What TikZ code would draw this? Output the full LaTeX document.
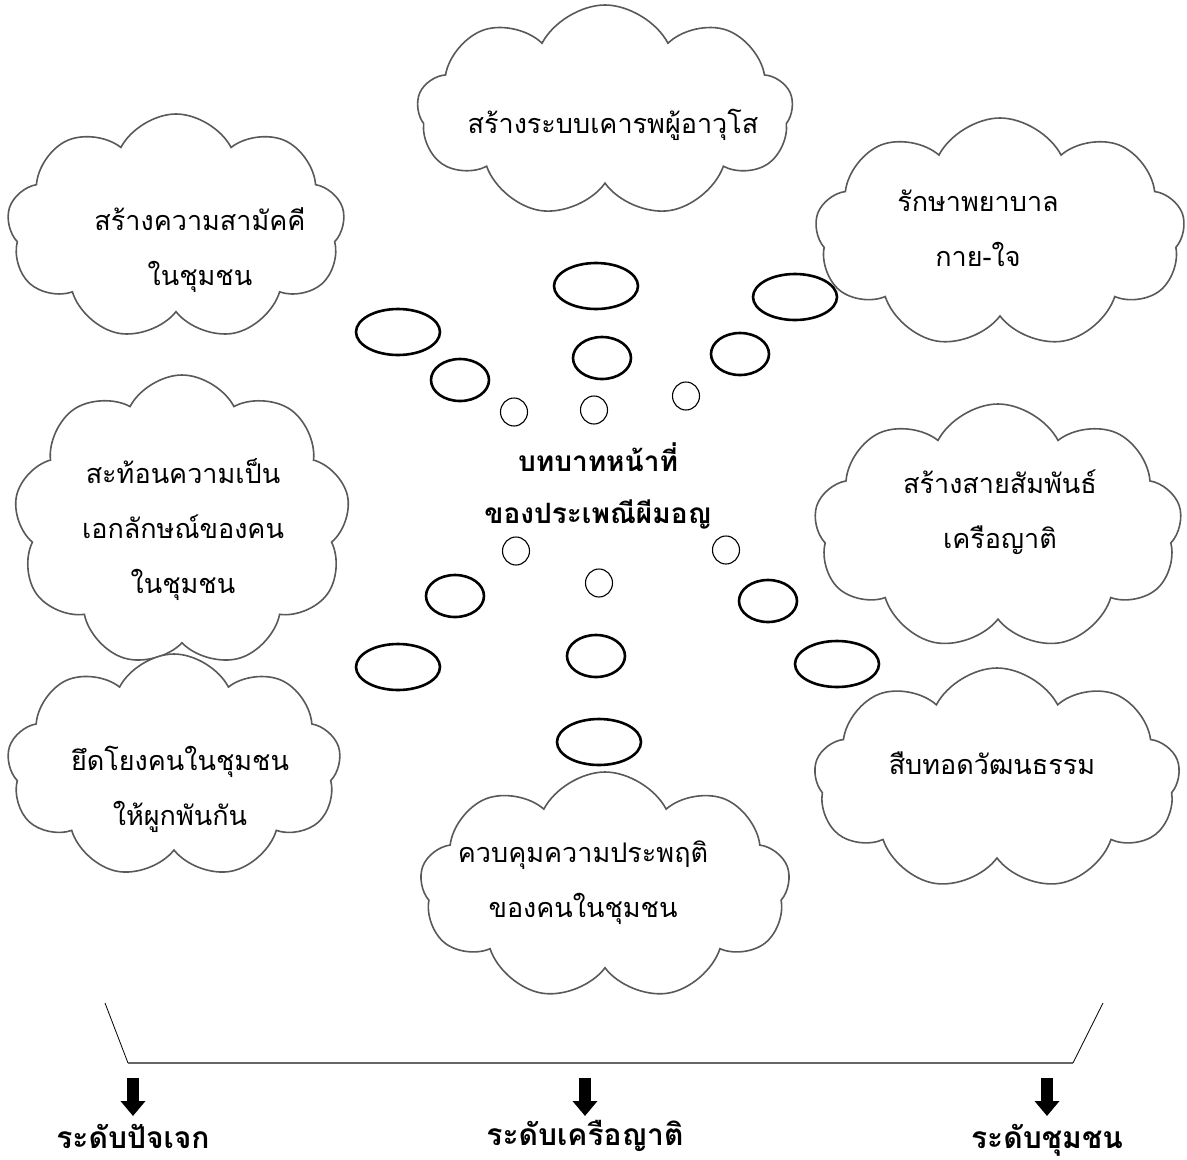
\documentclass[tikz,border=0pt]{standalone}
\usepackage{fontspec}
\newfontfamily\thaifont[Script=Thai]{Loma}
\usetikzlibrary{shapes.symbols,shapes.geometric,arrows.meta}

\tikzset{
  cloudbox/.style={cloud, cloud puffs=9, cloud puff arc=125, cloud ignores aspect,
    draw=black!65, line width=1.6pt, fill=white, inner sep=0pt},
  cloudtext/.style={align=center, font=\thaifont\fontsize{27}{55}\selectfont},
  bigbub/.style={ellipse, draw, line width=2.6pt, inner sep=0pt, minimum width=84, minimum height=46},
  midbub/.style={ellipse, draw, line width=2.6pt, inner sep=0pt, minimum width=58, minimum height=42},
  smallbub/.style={ellipse, draw, line width=1.1pt, inner sep=0pt, minimum width=27, minimum height=28},
  levelarrow/.style={line width=12pt, -{Triangle[width=24pt,length=15pt]}},
  leveltext/.style={font=\thaifont\bfseries\fontsize{30}{34}\selectfont}
}

\begin{document}
\begin{tikzpicture}[x=1pt,y=-1pt]
\useasboundingbox (0,0) rectangle (1187,1160);

% clouds
\node[cloudbox, minimum width=376, minimum height=212] (elders) at (605,111) {};
\node[cloudbox, minimum width=338, minimum height=226] (unity) at (176,227) {};
\node[cloudbox, minimum width=370, minimum height=230] (care) at (1000,233) {};
\node[cloudbox, minimum width=336, minimum height=292] (identity) at (182,521) {};
\node[cloudbox, minimum width=368, minimum height=246] (kinship) at (998,527) {};
\node[cloudbox, minimum width=334, minimum height=224] (bond) at (174,766) {};
\node[cloudbox, minimum width=366, minimum height=222] (heritage) at (997,779) {};
\node[cloudbox, minimum width=370, minimum height=228] (conduct) at (605,886) {};

\node[cloudtext] (eldersT) at (613,125) {สร้างระบบเคารพผู้อาวุโส};
\node[cloudtext] (unityT) at (200,250) {สร้างความสามัคคี\\ในชุมชน};
\node[cloudtext] (careT) at (978,228) {รักษาพยาบาล\\กาย-ใจ};
\node[cloudtext] (identityT) at (183,530) {สะท้อนความเป็น\\เอกลักษณ์ของคน\\ในชุมชน};
\node[cloudtext] (kinshipT) at (1000,512) {สร้างสายสัมพันธ์\\เครือญาติ};
\node[cloudtext] (bondT) at (180,789) {ยึดโยงคนในชุมชน\\ให้ผูกพันกัน};
\node[cloudtext] (heritageT) at (992,763) {สืบทอดวัฒนธรรม};
\node[cloudtext] (conductT) at (583,883) {ควบคุมความประพฤติ\\ของคนในชุมชน};

% centre
\node[cloudtext, font=\thaifont\bfseries\fontsize{28}{52}\selectfont] (role) at (598,486)
  {บทบาทหน้าที่\\ของประเพณีผีมอญ};

% thought bubbles
\node[smallbub] (ul1) at (514,412) {};
\node[midbub] (ul2) at (460,380) {};
\node[bigbub] (ul3) at (398,332) {};
\node[smallbub] (up1) at (594,410) {};
\node[midbub] (up2) at (602,358) {};
\node[bigbub] (up3) at (596,286) {};
\node[smallbub] (ur1) at (686,396) {};
\node[midbub] (ur2) at (740,354) {};
\node[bigbub] (ur3) at (795,297) {};
\node[smallbub] (dl1) at (516,551) {};
\node[midbub] (dl2) at (455,596) {};
\node[bigbub] (dl3) at (398,667) {};
\node[smallbub] (dn1) at (599,583) {};
\node[midbub] (dn2) at (596,656) {};
\node[bigbub] (dn3) at (599,742) {};
\node[smallbub] (dr1) at (726,550) {};
\node[midbub] (dr2) at (768,601) {};
\node[bigbub] (dr3) at (837,664) {};

% levels
\coordinate (lt) at (105,1003);
\coordinate (lb) at (128,1063);
\coordinate (rb) at (1073,1063);
\coordinate (rt) at (1103,1003);
\draw[line width=0.8pt] (lt)--(lb);
\draw[line width=2.6pt, black!60] (lb)--(rb);
\draw[line width=0.8pt] (rb)--(rt);

\node[leveltext] (self) at (133,1136) {ระดับปัจเจก};
\node[leveltext] (kin) at (585,1136) {ระดับเครือญาติ};
\node[leveltext] (comm) at (1047,1140) {ระดับชุมชน};
\coordinate (a1) at (133,1078);
\coordinate (a2) at (585,1078);
\coordinate (a3) at (1047,1078);
\coordinate (e1) at (133,1116);
\coordinate (e2) at (585,1116);
\coordinate (e3) at (1047,1116);
\draw[levelarrow] (a1)--(e1);
\draw[levelarrow] (a2)--(e2);
\draw[levelarrow] (a3)--(e3);
\end{tikzpicture}
\end{document}
